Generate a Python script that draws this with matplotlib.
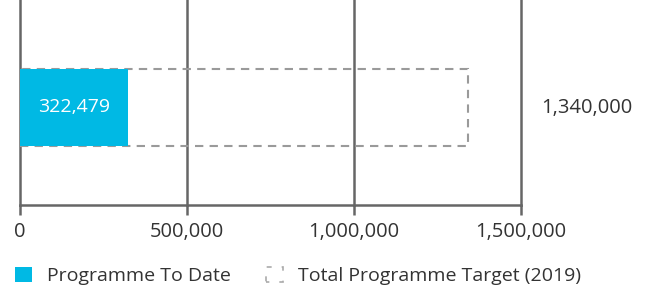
import matplotlib
matplotlib.use("Agg")
import matplotlib.pyplot as plt
from matplotlib.patches import Rectangle
from matplotlib.ticker import FuncFormatter

categories = ["Programme"]
to_date = [322479]
target = [1340000]
xticks = [0, 500000, 1000000, 1500000]

plt.rcParams['font.family'] = ['Open Sans', 'DejaVu Sans']
FS = 14.5

fig = plt.figure(figsize=(6.51, 2.90), dpi=100)
ax = fig.add_axes([20/651, 1-205/290, 501/651, 205/290])
ax.set_xlim(0, 1500000)
ax.set_ylim(0, 1)

bar_y = (205-107.5)/205
bar_h = 77/205

ax.barh([bar_y], target, height=bar_h, left=0, facecolor='none', edgecolor='#9a9a9a',
        linestyle=(0, (4, 3)), linewidth=1.5, zorder=3)
ax.barh([bar_y], to_date, height=bar_h, left=0, color='#00b9e4', zorder=4)

ax.text(to_date[0]/2, bar_y, f"{to_date[0]:,}", ha='center', va='center', color='white', fontsize=14, zorder=5)
ax.text(1560000, bar_y, f"{target[0]:,}", ha='left', va='center', color='#333333', fontsize=FS, clip_on=False)

ax.set_xticks(xticks)
ax.xaxis.set_major_formatter(FuncFormatter(lambda v, p: f"{int(v):,}"))
ax.tick_params(axis='x', length=7, width=1.8, color='#666666', labelsize=FS, labelcolor='#333333', pad=5)
ax.set_yticks([])
ax.grid(axis='x', color='#666666', linewidth=1.8, zorder=1)
for gl in ax.get_xgridlines():
    gl.set_clip_on(False)
for s in ['top', 'right', 'left']:
    ax.spines[s].set_visible(False)
ax.spines['bottom'].set_color('#666666')
ax.spines['bottom'].set_linewidth(1.8)
ax.set_axisbelow(True)

handles = [Rectangle((0, 0), 1, 1, facecolor='#00b9e4', edgecolor='none'),
           Rectangle((0, 0), 1, 1, facecolor='none', edgecolor='#aaaaaa', linestyle=(1, (3, 6)), linewidth=1.2)]
leg = fig.legend(handles, ["Programme To Date", "Total Programme Target (2019)"], loc='center left',
                 bbox_to_anchor=(15/651, 1-276/290), ncol=2, frameon=False, fontsize=14, handlelength=0.88,
                 handleheight=0.85, handletextpad=0.77, columnspacing=1.8, labelcolor='#333333', borderpad=0,
                 borderaxespad=0)

fig.savefig("out.png", dpi=100)
